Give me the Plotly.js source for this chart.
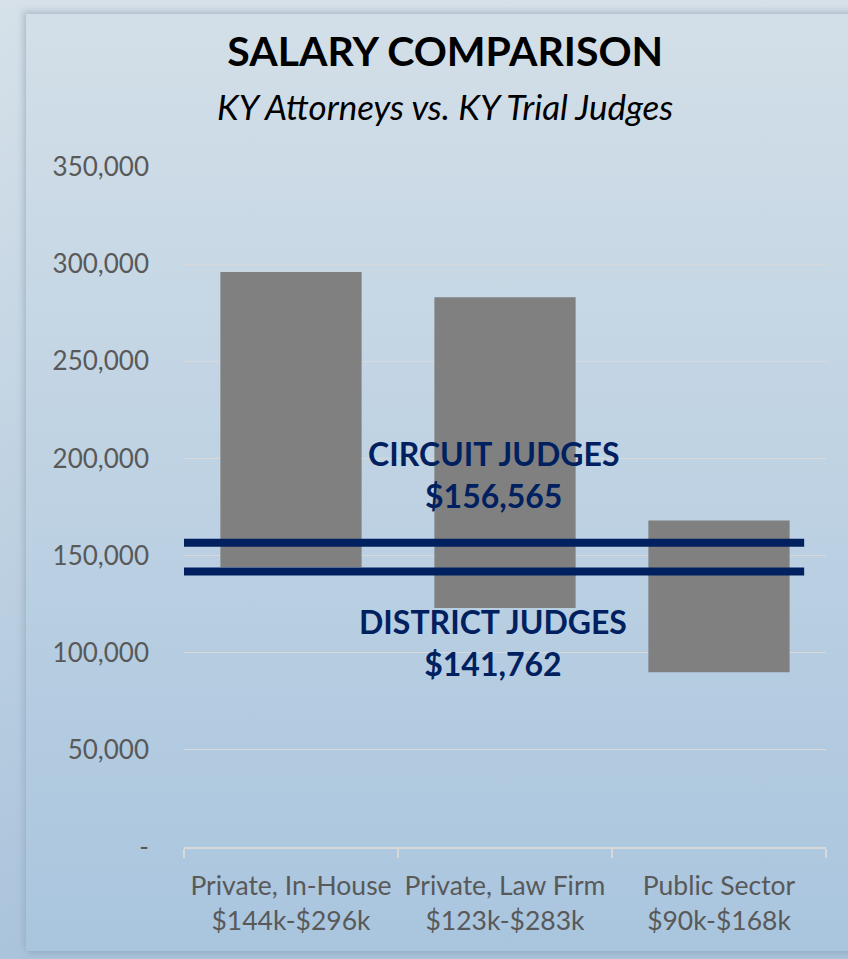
<!DOCTYPE html>
<html>
<head>
<meta charset="utf-8">
<script src="https://cdn.plot.ly/plotly-3.0.1.min.js"></script>
<style>
  html, body { margin: 0; padding: 0; width: 848px; height: 959px; overflow: hidden; }
  body { background: linear-gradient(#d6e1e9, #aac4dc); position: relative; }
  #frame { position: absolute; left: 26px; top: 14px; right: -10px; bottom: 8px;
           background: linear-gradient(#d3dfe8, #a9c5de);
           box-shadow: -3px -3px 6px rgba(150,170,185,0.55), 2px 3px 5px rgba(140,160,180,0.5); }
  #chart { position: absolute; left: 0; top: 0; width: 848px; height: 959px; }
</style>
</head>
<body>
<div id="frame"></div>
<div id="chart"></div>
<script>
// ---- data ----
const categories = ["Private, In-House", "Private, Law Firm", "Public Sector"];
const rangeLabels = ["$144k-$296k", "$123k-$283k", "$90k-$168k"];
const salaryLow  = [144000, 123000, 90000];
const salaryHigh = [296000, 283000, 168000];
const circuitJudges = 156565;
const districtJudges = 141762;
const yTickVals = [0, 50000, 100000, 150000, 200000, 250000, 300000, 350000];
const yTickText = ["-", "50,000", "100,000", "150,000", "200,000", "250,000", "300,000", "350,000"];

const tickLabels = categories.map((c, i) => c + "<br>" + rangeLabels[i]);
const heights = salaryHigh.map((h, i) => h - salaryLow[i]);
const fmt = v => "$" + v.toLocaleString("en-US");

const FONT = "Lato, 'Open Sans', sans-serif";
const NAVY = "#002060";

const trace = {
  type: "bar",
  x: tickLabels,
  y: heights,
  base: salaryLow,
  marker: { color: "#808080" },
  width: 0.66,
  hoverinfo: "skip"
};

const layout = {
  width: 848, height: 959,
  paper_bgcolor: "rgba(0,0,0,0)",
  plot_bgcolor: "rgba(0,0,0,0)",
  margin: { l: 184, r: 22, t: 167, b: 111.5 },
  showlegend: false,
  font: { family: FONT, color: "#595959" },
  title: {
    text: "<b>SALARY COMPARISON</b>",
    font: { family: FONT, size: 41, color: "#000000" },
    x: 0.525, xanchor: "center", xref: "container",
    y: 1 - 52 / 959, yanchor: "middle", yref: "container"
  },
  xaxis: {
    type: "category",
    showgrid: false,
    showline: true, linecolor: "#d9d9d9", linewidth: 1.5,
    ticks: "outside", tickson: "boundaries", ticklen: 9, tickcolor: "#d9d9d9", tickwidth: 1.5,
    ticklabelstandoff: 15,
    tickfont: { family: FONT, size: 26.5, color: "#595959" },
    fixedrange: true
  },
  yaxis: {
    range: [0, 350000],
    tickvals: yTickVals, ticktext: yTickText,
    showgrid: true, gridcolor: "#d9d9d9", gridwidth: 1,
    zeroline: false, showline: false, ticks: "",
    ticklabelstandoff: 34,
    tickfont: { family: FONT, size: 26, color: "#595959" },
    fixedrange: true
  },
  shapes: [
    { type: "line", xref: "paper", yref: "y", x0: 0, x1: 0.966, y0: circuitJudges, y1: circuitJudges,
      line: { color: NAVY, width: 8 } },
    { type: "line", xref: "paper", yref: "y", x0: 0, x1: 0.966, y0: districtJudges, y1: districtJudges,
      line: { color: NAVY, width: 8 } }
  ],
  annotations: [
    { text: "<i>KY Attorneys vs. KY Trial Judges</i>", xref: "paper", yref: "paper",
      x: (445 - 184) / 642, y: 1 + (167 - 106) / 680.5, xanchor: "center", yanchor: "middle",
      showarrow: false, font: { family: FONT, size: 35, color: "#000000" } },
    { text: "<b>CIRCUIT JUDGES<br>" + fmt(circuitJudges) + "</b>", xref: "paper", yref: "y",
      x: (493 - 184) / 642, y: circuitJudges, xanchor: "center", yanchor: "bottom", yshift: 26,
      showarrow: false, font: { family: FONT, size: 32, color: NAVY } },
    { text: "<b>DISTRICT JUDGES<br>" + fmt(districtJudges) + "</b>", xref: "paper", yref: "y",
      x: (493 - 184) / 642, y: districtJudges, xanchor: "center", yanchor: "top", yshift: -28,
      showarrow: false, font: { family: FONT, size: 32, color: NAVY } }
  ]
};

Plotly.newPlot("chart", [trace], layout, { displayModeBar: false, staticPlot: true });
</script>
</body>
</html>
